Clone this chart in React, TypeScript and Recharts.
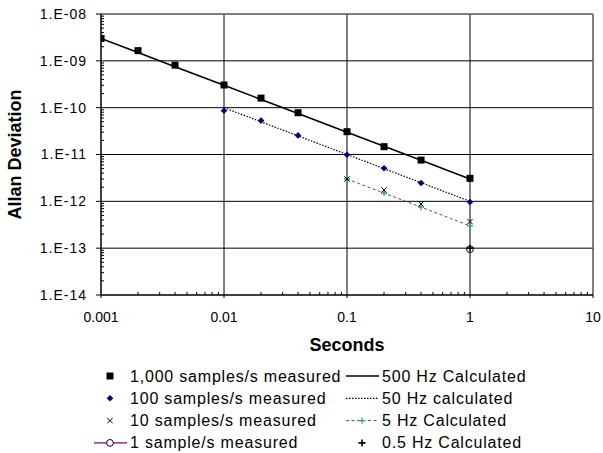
import React from 'react';
import { LineChart, Line, XAxis, YAxis, CartesianGrid, ReferenceLine, Legend } from 'recharts';

// averaging time (s) and Allan deviation
const tau1000 = [0.001, 0.002, 0.004, 0.01, 0.02, 0.04, 0.1, 0.2, 0.4, 1];
const meas1000 = [3.0e-9, 1.65e-9, 8.1e-10, 3.05e-10, 1.6e-10, 7.8e-11, 3.07e-11, 1.47e-11, 7.6e-12, 3.1e-12];
const calc500 = [3e-9, 1.5e-9, 7.5e-10, 3e-10, 1.5e-10, 7.5e-11, 3e-11, 1.5e-11, 7.5e-12, 3e-12];

const tau100 = [0.01, 0.02, 0.04, 0.1, 0.2, 0.4, 1];
const meas100 = [8.6e-11, 5.3e-11, 2.56e-11, 9.9e-12, 5.07e-12, 2.46e-12, 9.7e-13];
const calc50 = [1e-10, 5e-11, 2.5e-11, 1e-11, 5e-12, 2.5e-12, 1e-12];

const tau10 = [0.1, 0.2, 0.4, 1];
const meas10 = [3.0e-12, 1.75e-12, 8.8e-13, 3.7e-13];
const calc5 = [3e-12, 1.5e-12, 7.5e-13, 3e-13];

const tau1 = [1];
const meas1 = [9.5e-14];
const calc05 = [1e-13];

const xTicks = [0.001, 0.01, 0.1, 1, 10];
const yTicks = [1e-14, 1e-13, 1e-12, 1e-11, 1e-10, 1e-9, 1e-8];
const minorMult = [2, 3, 4, 5, 6, 7, 8, 9];
const xMinor = [0.001, 0.01, 0.1, 1].flatMap((d) => minorMult.map((m) => m * d));
const yMinor = [1e-14, 1e-13, 1e-12, 1e-11, 1e-10, 1e-9].flatMap((d) => minorMult.map((m) => m * d));

const legendMeasured = ['1,000 samples/s measured', '100 samples/s measured', '10 samples/s measured', '1 sample/s measured'];
const legendCalc = ['500 Hz Calculated', '50 Hz calculated', '5 Hz Calculated', '0.5 Hz Calculated'];

const FONT = '"Liberation Sans", Arial, Helvetica, sans-serif';
const NAVY = '#000080';
const TEAL = '#339999';
const PURPLE = '#800080';

const X_TICK = 3;
const X_MARGIN = 14;
const Y_TICK = 5;
const Y_MARGIN = 9;

const toPoints = (ts: number[], vs: number[]) => ts.map((t, i) => ({ t, v: vs[i] }));

const isMajor = (v: number) => Math.abs(Math.log10(v) - Math.round(Math.log10(v))) < 1e-6;

// marker glyphs, shared by the plot and the legend
const square = (x: number, y: number) => <rect x={x - 3.5} y={y - 3.5} width={7} height={7} fill="#000" />;
const diamond = (x: number, y: number) => (
  <polygon points={`${x},${y - 3.3} ${x + 3.3},${y} ${x},${y + 3.3} ${x - 3.3},${y}`} fill={NAVY} />
);
const cross = (x: number, y: number) => (
  <path d={`M${x - 2.7},${y - 2.7}L${x + 2.7},${y + 2.7}M${x - 2.7},${y + 2.7}L${x + 2.7},${y - 2.7}`} stroke="#000" strokeWidth={1} fill="none" />
);
const tealPlus = (x: number, y: number) => (
  <path d={`M${x - 3},${y}L${x + 3},${y}M${x},${y - 3}L${x},${y + 3}`} stroke={TEAL} strokeWidth={1.3} fill="none" />
);
const circle = (x: number, y: number) => <circle cx={x} cy={y} r={3.4} stroke="#000" strokeWidth={1} fill="#fff" />;
const blackPlus = (x: number, y: number) => (
  <path d={`M${x - 3.5},${y}L${x + 3.5},${y}M${x},${y - 3.5}L${x},${y + 3.5}`} stroke="#000" strokeWidth={1.6} fill="none" />
);

const dotOf = (glyph: (x: number, y: number) => React.ReactElement, name: string) => (p: any) => {
  if (p.cx == null || p.cy == null) return <g key={`${name}-${p.index}`} />;
  return <g key={`${name}-${p.index}`}>{glyph(p.cx, p.cy)}</g>;
};

const fmtY = (v: number) => `1.E-${String(Math.round(-Math.log10(v))).padStart(2, '0')}`;

// major ticks point outward with a label, minor ticks point into the plot
const XTick = (p: any) => {
  const v = p.payload.value;
  const axisY = p.y - X_TICK - X_MARGIN;
  if (!isMajor(v)) {
    return <line x1={p.x} x2={p.x} y1={axisY - 3} y2={axisY} stroke="#000" strokeWidth={1} />;
  }
  return (
    <g>
      <line x1={p.x} x2={p.x} y1={axisY} y2={axisY + X_TICK} stroke="#000" strokeWidth={1} />
      <text x={p.x} y={p.y} dy="0.71em" textAnchor="middle" fontSize={14} fill="#000">
        {String(v)}
      </text>
    </g>
  );
};

const YTick = (p: any) => {
  const v = p.payload.value;
  const axisX = p.x + Y_TICK + Y_MARGIN;
  if (!isMajor(v)) {
    return <line x1={axisX} x2={axisX + 3} y1={p.y} y2={p.y} stroke="#000" strokeWidth={1} />;
  }
  return (
    <g>
      <line x1={axisX - Y_TICK} x2={axisX} y1={p.y} y2={p.y} stroke="#000" strokeWidth={1} />
      <text x={p.x} y={p.y} dy="0.355em" textAnchor="end" fontSize={14} letterSpacing={1} fill="#000">
        {fmtY(v)}
      </text>
    </g>
  );
};

const measuredGlyphs = [square, diamond, cross, circle];

const LegendBox = () => {
  const rowY = (i: number) => 16 + i * 22.3;
  return (
    <svg width={603} height={93} style={{ display: 'block', fontFamily: FONT }}>
      {legendMeasured.map((label, i) => (
        <g key={label}>
          {i === 3 && <line x1={94} x2={127} y1={rowY(i)} y2={rowY(i)} stroke={PURPLE} strokeWidth={1.2} />}
          {measuredGlyphs[i](110, rowY(i))}
          <text x={130} y={rowY(i)} dominantBaseline="central" fontSize={16} letterSpacing={0.8} fill="#000">
            {label}
          </text>
        </g>
      ))}
      {legendCalc.map((label, i) => (
        <g key={label}>
          {i === 0 && <line x1={346} x2={379} y1={rowY(i)} y2={rowY(i)} stroke="#000" strokeWidth={1.6} />}
          {i === 1 && <line x1={346} x2={379} y1={rowY(i)} y2={rowY(i)} stroke="#000" strokeWidth={1.2} strokeDasharray="1.5 1.5" />}
          {i === 2 && (
            <g>
              <line x1={346} x2={379} y1={rowY(i)} y2={rowY(i)} stroke="#555" strokeWidth={1} strokeDasharray="3 2.5" />
              {tealPlus(362, rowY(i))}
            </g>
          )}
          {i === 3 && blackPlus(362, rowY(i))}
          <text x={382} y={rowY(i)} dominantBaseline="central" fontSize={16} letterSpacing={0.8} fill="#000">
            {label}
          </text>
        </g>
      ))}
    </svg>
  );
};

export default function App() {
  return (
    <div style={{ position: 'absolute', left: 0, top: 0, width: 603, height: 453, background: '#fff' }}>
      <LineChart width={603} height={453} margin={{ top: 14, right: 10, left: 0, bottom: 128 }} style={{ fontFamily: FONT }}>
        <CartesianGrid stroke="#000" strokeWidth={1} horizontalValues={yTicks} verticalValues={xTicks} />
        <XAxis
          dataKey="t"
          type="number"
          scale="log"
          domain={[0.001, 10]}
          allowDataOverflow
          ticks={[...xTicks, ...xMinor]}
          interval={0}
          tickSize={X_TICK}
          tickMargin={X_MARGIN}
          tickLine={false}
          height={30}
          stroke="#000"
          tick={XTick}
          label={(props: any) => {
            const vb = props.viewBox;
            return (
              <text x={vb.x + vb.width / 2} y={vb.y + 50} textAnchor="middle" dominantBaseline="central" fontSize={18} fontWeight="bold" fill="#000">
                Seconds
              </text>
            );
          }}
        />
        <YAxis
          type="number"
          scale="log"
          domain={[1e-14, 1e-8]}
          allowDataOverflow
          ticks={[...yTicks, ...yMinor]}
          interval={0}
          width={101}
          tickSize={Y_TICK}
          tickMargin={Y_MARGIN}
          tickLine={false}
          stroke="#000"
          tick={YTick}
          label={(props: any) => {
            const vb = props.viewBox;
            const cx = vb.x + 15;
            const cy = vb.y + vb.height / 2;
            return (
              <text x={cx} y={cy} transform={`rotate(-90 ${cx} ${cy})`} textAnchor="middle" dominantBaseline="central" fontSize={18} fontWeight="bold" fill="#000">
                Allan Deviation
              </text>
            );
          }}
        />
        <ReferenceLine y={1e-8} stroke="#808080" strokeWidth={1} />
        <ReferenceLine x={10} stroke="#808080" strokeWidth={1} />

        <Line data={toPoints(tau1000, calc500)} dataKey="v" stroke="#000" strokeWidth={1.6} dot={false} isAnimationActive={false} legendType="none" />
        <Line data={toPoints(tau100, calc50)} dataKey="v" stroke="#000" strokeWidth={1.2} strokeDasharray="1.5 1.5" dot={false} isAnimationActive={false} legendType="none" />
        <Line data={toPoints(tau10, calc5)} dataKey="v" stroke="#555" strokeWidth={1} strokeDasharray="3 2.5" dot={dotOf(tealPlus, 'c5')} isAnimationActive={false} legendType="none" />
        <Line data={toPoints(tau1000, meas1000)} dataKey="v" stroke="none" dot={dotOf(square, 'm1000')} isAnimationActive={false} legendType="none" />
        <Line data={toPoints(tau100, meas100)} dataKey="v" stroke="none" dot={dotOf(diamond, 'm100')} isAnimationActive={false} legendType="none" />
        <Line data={toPoints(tau10, meas10)} dataKey="v" stroke="none" dot={dotOf(cross, 'm10')} isAnimationActive={false} legendType="none" />
        <Line data={toPoints(tau1, meas1)} dataKey="v" stroke={PURPLE} dot={dotOf(circle, 'm1')} isAnimationActive={false} legendType="none" />
        <Line data={toPoints(tau1, calc05)} dataKey="v" stroke="none" dot={dotOf(blackPlus, 'c05')} isAnimationActive={false} legendType="none" />

        <Legend
          layout="horizontal"
          verticalAlign="middle"
          align="center"
          wrapperStyle={{ top: 360, left: 0, width: 603, height: 93 }}
          content={() => <LegendBox />}
        />
      </LineChart>
    </div>
  );
}
